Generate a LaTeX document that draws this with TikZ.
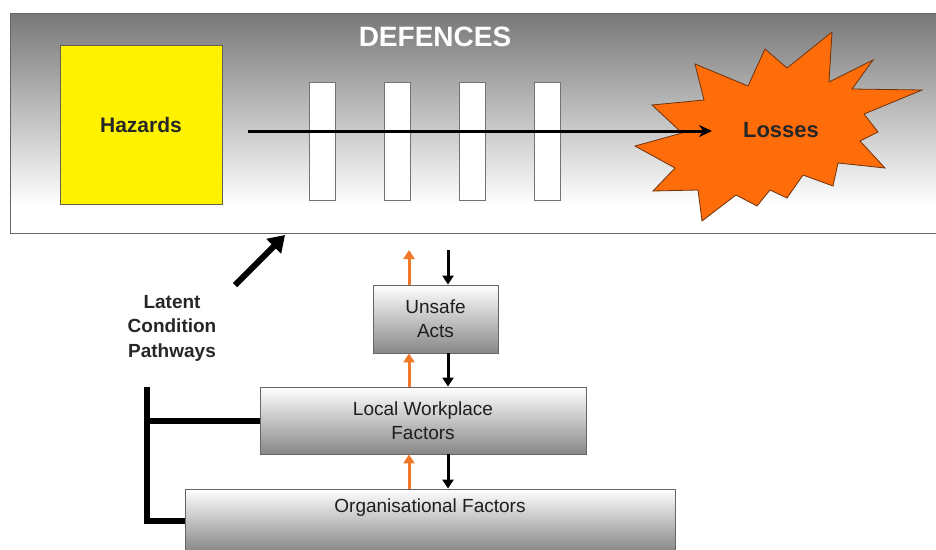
\documentclass[tikz,border=0pt]{standalone}
\usepackage{fontspec}
\setmainfont{Liberation Sans}
\usetikzlibrary{arrows.meta}
\definecolor{burst}{RGB}{255,108,10}
\definecolor{burstline}{RGB}{110,50,10}
\definecolor{orangearr}{RGB}{240,120,40}
\definecolor{txt}{RGB}{30,30,30}
\tikzset{
  factorbox/.style={draw=black!60, line width=0.8pt, top color=white, bottom color=black!47, text=txt, align=center, inner sep=0pt},
  barbox/.style={draw=black!55, line width=0.6pt, fill=white, minimum width=26pt, minimum height=118pt, inner sep=0pt},
  flowtext/.style={font=\fontsize{19}{24}\selectfont, text=txt, align=center},
  boldtext/.style={font=\bfseries\fontsize{21}{24}\selectfont, text=black!85},
  uparr/.style={draw=orangearr, line width=3pt, -{Triangle[length=9pt,width=11pt]}},
  downarr/.style={draw=black, line width=3pt, -{Triangle[length=9pt,width=11pt]}},
  mainarr/.style={draw=black, line width=3pt, -{Stealth[length=13pt,width=12pt]}},
  bigarr/.style={draw=black, line width=6pt, -{Triangle[length=16pt,width=20pt]}},
  bracket/.style={draw=black, line width=6pt},
}
\begin{document}
\begin{tikzpicture}[x=1pt,y=-1pt]
\useasboundingbox (0,0) rectangle (936,549);
\clip (0,0) rectangle (936,549);
% defences panel
\shade[top color=black!53, bottom color=white] (10,13) rectangle (940,205);
\fill[white] (10,204) rectangle (940,233);
\node[draw=black!60, line width=0.8pt, minimum width=940pt, minimum height=220pt, inner sep=0pt, anchor=north west] (panel) at (10,13) {};
\node[font=\bfseries\fontsize{28}{30}\selectfont, text=white] (def) at (435,37) {DEFENCES};
% hazards
\node[draw=black!70!yellow, line width=0.8pt, fill=yellow, minimum width=162pt, minimum height=159pt, inner sep=0pt, boldtext] (haz) at (141,124.5) {Hazards};
% bars
\node[barbox] (b1) at (322,141) {};
\node[barbox] (b2) at (397,141) {};
\node[barbox] (b3) at (472,141) {};
\node[barbox] (b4) at (547,141) {};
% starburst
\fill[burst, draw=burstline, line width=0.8pt] (832,32) -- (829,82) -- (873,60) -- (852,89) -- (922,90) -- (864,114) -- (878,132) -- (860,141) -- (885,168) -- (838,163) -- (833,186) -- (803,175) -- (787,198) -- (770,190) -- (757,206) -- (736,195) -- (702,221) -- (698,190) -- (653,191) -- (675,168) -- (635,146) -- (682,133) -- (652,105) -- (704,100) -- (695,64) -- (748,86) -- (765,49) -- (787,68) -- cycle;
\node[boldtext, font=\bfseries\fontsize{22}{24}\selectfont] (loss) at (781,130) {Losses};
% main arrow
\coordinate (astart) at (248,131);
\coordinate (aend) at (712,131);
\draw[mainarr] (astart) -- (aend);
% latent pathways
\coordinate (dstart) at (235,285);
\coordinate (dend) at (285,235);
\draw[bigarr] (dstart) -- (dend);
\node[font=\bfseries\fontsize{19}{24.5}\selectfont, text=black!85, align=center] (lat) at (172,328) {Latent\\Condition\\Pathways};
% factor boxes
\node[factorbox, minimum width=125pt, minimum height=68pt, flowtext] (ua) at (435.5,319) {Unsafe\\Acts};
\node[factorbox, minimum width=326pt, minimum height=67pt, flowtext] (lw) at (423,420.5) {Local Workplace\\Factors};
\node[factorbox, minimum width=490pt, minimum height=62pt] (org) at (430,520) {};
\node[flowtext] (orgt) at (430,508) {Organisational Factors};
% small arrows
\coordinate (ox) at (409,0);
\coordinate (bx) at (448,0);
\coordinate (topo) at (409,250);
\coordinate (topb) at (448,250);
\draw[uparr] (ua.north -| ox) -- (topo);
\draw[downarr] (topb) -- (ua.north -| bx);
\draw[uparr] (lw.north -| ox) -- (ua.south -| ox);
\draw[downarr] (ua.south -| bx) -- (lw.north -| bx);
\draw[uparr] (org.north -| ox) -- (lw.south -| ox);
\draw[downarr] (lw.south -| bx) -- (org.north -| bx);
% bracket
\coordinate (btop) at (147,387);
\coordinate (bbot) at (147,521);
\draw[bracket] (lw.west) -- (lw.west -| btop);
\draw[bracket] (btop) -- (bbot) -- (bbot -| org.west);
\end{tikzpicture}
\end{document}
